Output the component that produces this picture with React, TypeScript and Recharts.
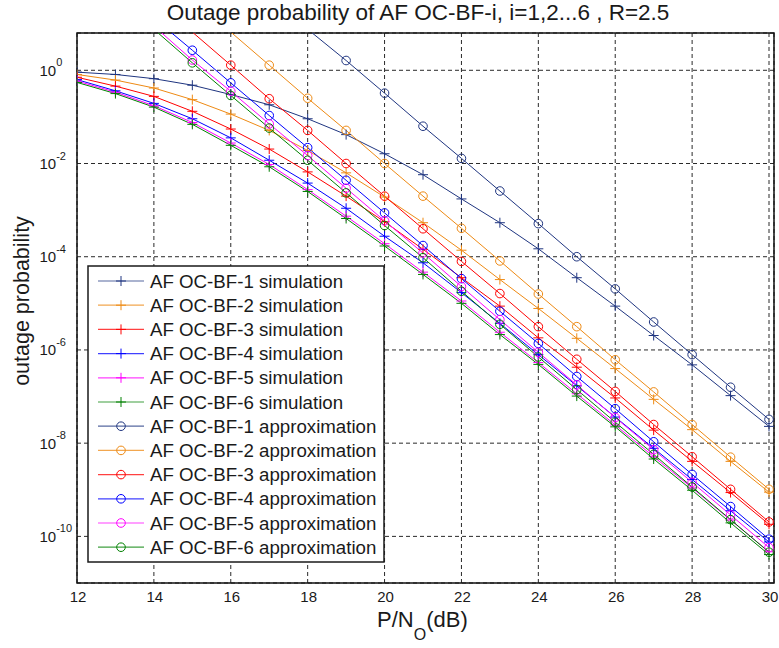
import React from 'react';
import { LineChart, Line, XAxis, YAxis, CartesianGrid, ReferenceArea, Legend } from 'recharts';

// P/N0 in dB
const snrDb = [12, 13, 14, 15, 16, 17, 18, 19, 20, 21, 22, 23, 24, 25, 26, 27, 28, 29, 30];
const xTicks = [12, 14, 16, 18, 20, 22, 24, 26, 28, 30];
const yTickExponents = [-10, -8, -6, -4, -2, 0];

const sim1Log = [-0.04, -0.09, -0.18, -0.32, -0.52, -0.74, -1.04, -1.38, -1.79, -2.24, -2.76, -3.27, -3.83, -4.45, -5.06, -5.69, -6.32, -6.98, -7.64];
const sim2Log = [-0.09, -0.21, -0.38, -0.63, -0.94, -1.29, -1.72, -2.2, -2.72, -3.27, -3.86, -4.49, -5.11, -5.75, -6.4, -7.06, -7.71, -8.39, -9.05];
const sim3Log = [-0.15, -0.34, -0.56, -0.88, -1.26, -1.69, -2.18, -2.7, -3.25, -3.84, -4.45, -5.06, -5.74, -6.37, -7.03, -7.72, -8.39, -9.06, -9.74];
const sim4Log = [-0.2, -0.44, -0.71, -1.04, -1.45, -1.93, -2.42, -2.96, -3.56, -4.13, -4.77, -5.43, -6.1, -6.77, -7.44, -8.11, -8.78, -9.45, -10.12];
const sim5Log = [-0.23, -0.47, -0.76, -1.12, -1.56, -2.02, -2.56, -3.13, -3.72, -4.33, -4.95, -5.62, -6.27, -6.94, -7.61, -8.29, -8.96, -9.65, -10.33];
const sim6Log = [-0.26, -0.5, -0.79, -1.16, -1.61, -2.07, -2.6, -3.18, -3.77, -4.38, -5.0, -5.67, -6.31, -6.99, -7.65, -8.34, -9.01, -9.71, -10.39];

const approx1Log = [null, null, null, null, null, null, 0.88, 0.21, -0.49, -1.2, -1.89, -2.59, -3.29, -4.0, -4.69, -5.4, -6.1, -6.8, -7.49];
const approx2Log = [null, null, null, null, 0.82, 0.11, -0.6, -1.29, -2.0, -2.7, -3.39, -4.09, -4.8, -5.5, -6.21, -6.9, -7.6, -8.3, -8.99];
const approx3Log = [null, null, null, 0.82, 0.11, -0.61, -1.29, -2.0, -2.7, -3.4, -4.1, -4.79, -5.5, -6.2, -6.89, -7.6, -8.29, -8.99, -9.69];
const approx4Log = [null, null, 1.12, 0.43, -0.27, -0.97, -1.66, -2.36, -3.06, -3.76, -4.47, -5.17, -5.86, -6.57, -7.26, -7.97, -8.67, -9.36, -10.06];
const approx5Log = [null, null, 0.95, 0.22, -0.45, -1.15, -1.83, -2.53, -3.23, -3.92, -4.64, -5.35, -6.05, -6.75, -7.45, -8.14, -8.84, -9.54, -10.24];
const approx6Log = [null, null, 0.88, 0.16, -0.54, -1.24, -1.93, -2.63, -3.33, -4.02, -4.74, -5.45, -6.15, -6.85, -7.55, -8.24, -8.94, -9.64, -10.34];

const NAVY = '#1f3580';
const ORANGE = '#ee8a14';
const RED = '#ff0000';
const BLUE = '#0000ff';
const MAGENTA = '#ff00ff';
const GREEN = '#008000';

type Series = { key: string; name: string; color: string; marker: 'plus' | 'circle'; values: (number | null)[] };

const seriesDefs: Series[] = [
  { key: 's1', name: 'AF OC-BF-1 simulation', color: NAVY, marker: 'plus', values: sim1Log },
  { key: 's2', name: 'AF OC-BF-2 simulation', color: ORANGE, marker: 'plus', values: sim2Log },
  { key: 's3', name: 'AF OC-BF-3 simulation', color: RED, marker: 'plus', values: sim3Log },
  { key: 's4', name: 'AF OC-BF-4 simulation', color: BLUE, marker: 'plus', values: sim4Log },
  { key: 's5', name: 'AF OC-BF-5 simulation', color: MAGENTA, marker: 'plus', values: sim5Log },
  { key: 's6', name: 'AF OC-BF-6 simulation', color: GREEN, marker: 'plus', values: sim6Log },
  { key: 'a1', name: 'AF OC-BF-1 approximation', color: NAVY, marker: 'circle', values: approx1Log },
  { key: 'a2', name: 'AF OC-BF-2 approximation', color: ORANGE, marker: 'circle', values: approx2Log },
  { key: 'a3', name: 'AF OC-BF-3 approximation', color: RED, marker: 'circle', values: approx3Log },
  { key: 'a4', name: 'AF OC-BF-4 approximation', color: BLUE, marker: 'circle', values: approx4Log },
  { key: 'a5', name: 'AF OC-BF-5 approximation', color: MAGENTA, marker: 'circle', values: approx5Log },
  { key: 'a6', name: 'AF OC-BF-6 approximation', color: GREEN, marker: 'circle', values: approx6Log },
];

const data = snrDb.map((x, i) => {
  const row: Record<string, number | null> = { x };
  seriesDefs.forEach((s) => {
    const e = s.values[i];
    row[s.key] = e == null ? null : Math.pow(10, e);
  });
  return row;
});

const Y_MIN = 1e-11;
const Y_MAX = Math.pow(10, 0.8);
const X_MAX = 30.13;
const yTicks = yTickExponents.map((e) => Math.pow(10, e));

const FONT = '"Liberation Sans", Arial, Helvetica, sans-serif';
const TEXT = '#1a1a1a';

const W = 779;
const H = 648;
const PLOT_LEFT = 77;
const PLOT_TOP = 33;
const PLOT_RIGHT = 774;
const PLOT_BOTTOM = 583;

const Marker = ({ kind, color, cx, cy }: { kind: string; color: string; cx: number; cy: number }) =>
  kind === 'plus' ? (
    <g>
      <line x1={cx - 5} x2={cx + 5} y1={cy} y2={cy} stroke={color} strokeWidth={1} />
      <line x1={cx} x2={cx} y1={cy - 5} y2={cy + 5} stroke={color} strokeWidth={1} />
    </g>
  ) : (
    <circle cx={cx} cy={cy} r={4.3} fill="none" stroke={color} strokeWidth={1} />
  );

const makeDot = (s: Series) => (props: any) => {
  const { cx, cy, payload, index } = props;
  const v = payload ? payload[s.key] : null;
  if (v == null || cx == null || cy == null || v > Y_MAX || v < Y_MIN) {
    return <g key={`${s.key}-${index}`} />;
  }
  return (
    <g key={`${s.key}-${index}`}>
      <Marker kind={s.marker} color={s.color} cx={cx} cy={cy} />
    </g>
  );
};

const YTick = (props: any) => {
  const { y, payload } = props;
  const e = Math.round(Math.log10(payload.value));
  return (
    <text x={39.5} y={y + 5.5} fontSize={15} fill={TEXT} fontFamily={FONT}>
      <tspan>10</tspan>
      <tspan dy={-9.5} fontSize={11}>{e}</tspan>
    </text>
  );
};

const XTick = (props: any) => {
  const { x, payload } = props;
  return (
    <text x={x + 1} y={602} fontSize={15} fill={TEXT} fontFamily={FONT} textAnchor="middle">
      {payload.value}
    </text>
  );
};

const LegendBox = () => {
  const rowH = 24.2;
  const boxW = 296;
  const boxH = 296;
  return (
    <svg width={boxW + 2} height={boxH + 2} style={{ display: 'block' }}>
      <rect x={1} y={1} width={boxW} height={boxH} fill="#ffffff" stroke="#1a1a1a" strokeWidth={1.5} />
      {seriesDefs.map((s, i) => {
        const cy = 16 + i * rowH;
        return (
          <g key={s.key}>
            <line x1={11} x2={57} y1={cy} y2={cy} stroke={s.color} strokeWidth={1.2} strokeOpacity={0.75} />
            <Marker kind={s.marker} color={s.color} cx={34} cy={cy} />
            <text x={63} y={cy + 6.5} fontSize={18.7} fill={TEXT} fontFamily={FONT}>
              {s.name}
            </text>
          </g>
        );
      })}
    </svg>
  );
};

export default function App() {
  return (
    <div style={{ position: 'relative', width: W, height: H, background: '#ffffff' }}>
      <style>{`body{margin:0;background:#fff;}`}</style>
      <LineChart
        width={W}
        height={H}
        data={data}
        margin={{ top: PLOT_TOP, right: W - PLOT_RIGHT, bottom: 0, left: 0 }}
      >
        <CartesianGrid stroke="#2a2a2a" strokeDasharray="4 3" strokeWidth={1} />
        <XAxis
          dataKey="x"
          type="number"
          domain={[12, X_MAX]}
          ticks={xTicks}
          height={H - PLOT_BOTTOM}
          axisLine={false}
          tickLine={false}
          tick={<XTick />}
          allowDataOverflow
          interval={0}
        />
        <YAxis
          type="number"
          scale="log"
          domain={[Y_MIN, Y_MAX]}
          ticks={yTicks}
          width={PLOT_LEFT}
          axisLine={false}
          tickLine={false}
          tick={<YTick />}
          allowDataOverflow
          interval={0}
        />
        {seriesDefs.map((s) => (
          <Line
            key={s.key}
            dataKey={s.key}
            name={s.name}
            stroke={s.color}
            strokeWidth={1}
            dot={makeDot(s)}
            activeDot={false}
            isAnimationActive={false}
            connectNulls={false}
            type="linear"
          />
        ))}
        <ReferenceArea
          x1={12}
          x2={X_MAX}
          y1={Y_MIN}
          y2={Y_MAX}
          fill="none"
          fillOpacity={0}
          stroke="#111111"
          strokeWidth={1.5}
          ifOverflow="visible"
        />
        <Legend
          layout="vertical"
          align="center"
          verticalAlign="middle"
          wrapperStyle={{ left: 87, top: 265, width: 298, height: 298 }}
          content={() => <LegendBox />}
        />
      </LineChart>
      <svg
        width={W}
        height={H}
        style={{ position: 'absolute', left: 0, top: 0, pointerEvents: 'none' }}
      >
        <text x={418} y={20} fontSize={22.5} fill={TEXT} fontFamily={FONT} textAnchor="middle">
          Outage probability of AF OC-BF-i, i=1,2...6 , R=2.5
        </text>
        <text x={377} y={627} fontSize={22} fill={TEXT} fontFamily={FONT}>
          <tspan>P/N</tspan>
          <tspan fontSize={16} dy={13}>O</tspan>
          <tspan fontSize={22} dy={-13}>(dB)</tspan>
        </text>
        <text
          x={0}
          y={0}
          fontSize={21.5}
          fill={TEXT}
          fontFamily={FONT}
          textAnchor="middle"
          transform="translate(29, 301) rotate(-90)"
        >
          outage probability
        </text>
      </svg>
    </div>
  );
}
